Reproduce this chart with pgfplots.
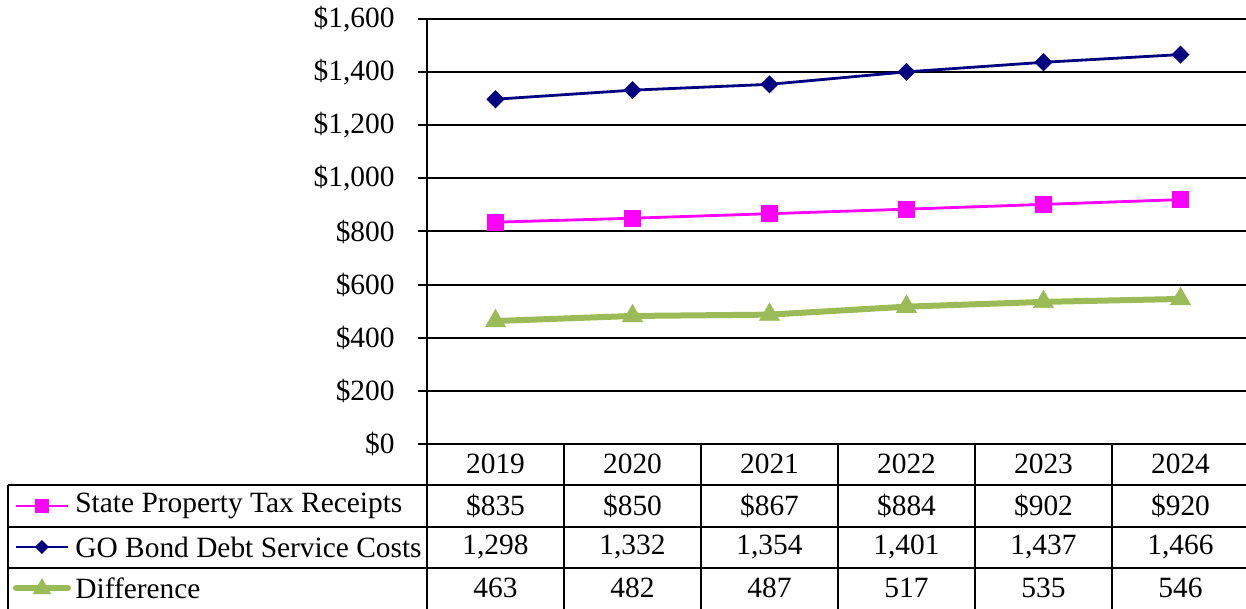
\documentclass[border=0pt]{standalone}
\usepackage{fontspec}
\setmainfont{Liberation Serif}
\usepackage{pgfplots}
\pgfplotsset{compat=1.18}

\definecolor{taxpink}{RGB}{255,0,255}
\definecolor{bondnavy}{RGB}{0,0,128}
\definecolor{diffgreen}{RGB}{155,187,89}

\newcommand{\tfont}{\fontsize{14.7}{17}\selectfont}

\begin{document}
\begin{tikzpicture}[font=\tfont]
\useasboundingbox (-213.5pt,-82.5pt) rectangle (409.5pt,222pt);
\begin{axis}[
  at={(0pt,0pt)}, anchor=south west,
  scale only axis,
  width=411pt, height=212.5pt,
  xmin=-0.5, xmax=5.5,
  ymin=0, ymax=1600,
  ytick distance=200,
  xtick=\empty,
  axis x line*=bottom,
  axis y line*=left,
  axis line style={black, line width=1pt},
  ymajorgrids,
  grid style={black, line width=1pt},
  tick align=outside,
  major tick length=4.5pt,
  ytick style={black, line width=1pt},
  yticklabel={\$\pgfmathprintnumber{\tick}},
  /pgf/number format/.cd, fixed, 1000 sep={,}, assume math mode=true,
  /pgfplots/.cd,
  yticklabel style={font=\tfont, inner sep=0pt, xshift=-11.5pt},
  clip=false,
]
% Difference
\addplot[diffgreen, line width=3pt, mark=triangle*, mark size=5.8pt,
  mark options={line width=0.3pt}]
  coordinates {(0,463) (1,482) (2,487) (3,517) (4,535) (5,546)};
% State property tax receipts
\addplot[taxpink, line width=1.4pt, mark=square*, mark size=3.6pt]
  coordinates {(0,835) (1,850) (2,867) (3,884) (4,902) (5,920)};
% GO bond debt service costs
\addplot[bondnavy, line width=1.4pt, mark=square*, mark size=2.5pt,
  mark options={rotate=45}]
  coordinates {(0,1298) (1,1332) (2,1354) (3,1401) (4,1437) (5,1466)};
\end{axis}

% data table under the plot (one column = 68.5pt)
\begin{scope}[line width=1pt]
  \draw (0pt,0pt) -- (0pt,-82.5pt);
  \foreach \c in {1,...,5}
    \draw (\c*68.5pt,0pt) -- (\c*68.5pt,-82.5pt);
  \foreach \r in {20.5,41.5,62}
    \draw (-209.5pt,-\r pt) -- (415pt,-\r pt);
  \draw (-209.5pt,-20.5pt) -- (-209.5pt,-82.5pt);
\end{scope}

\foreach \yr [count=\k from 0] in {2019,2020,2021,2022,2023,2024}
  \node at (34.25pt+\k*68.5pt,-10pt) {\yr};
\foreach \v [count=\k from 0] in {835,850,867,884,902,920}
  \node at (34.25pt+\k*68.5pt,-31pt) {\$\v};
\foreach \v [count=\k from 0] in {298,332,354,401,437,466}
  \node at (34.25pt+\k*68.5pt,-51.5pt) {1,\v};
\foreach \v [count=\k from 0] in {463,482,487,517,535,546}
  \node at (34.25pt+\k*68.5pt,-72pt) {\v};

% row keys
\draw[taxpink, line width=1.4pt] (-205.5pt,-31pt) -- ++(26pt,0pt);
\fill[taxpink] (-196pt,-34.6pt) rectangle ++(7.2pt,7.2pt);
\node[anchor=west, inner sep=0pt] at (-176pt,-31pt) {State Property Tax Receipts};

\draw[bondnavy, line width=1.4pt] (-205.5pt,-51.5pt) -- ++(26pt,0pt);
\fill[bondnavy] (-192.5pt,-48pt) -- ++(3.5pt,-3.5pt) -- ++(-3.5pt,-3.5pt) -- ++(-3.5pt,3.5pt) -- cycle;
\node[anchor=west, inner sep=0pt] at (-176pt,-51.5pt) {GO Bond Debt Service Costs};

\draw[diffgreen, line width=3pt, line cap=round] (-205.5pt,-72pt) -- ++(26pt,0pt);
\fill[diffgreen] (-192.5pt,-67pt) -- ++(4.6pt,-8pt) -- ++(-9.2pt,0pt) -- cycle;
\node[anchor=west, inner sep=0pt] at (-176pt,-72pt) {Difference};
\end{tikzpicture}
\end{document}
